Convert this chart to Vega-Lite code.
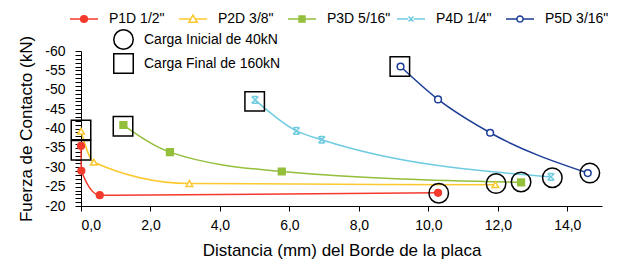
{
  "$schema": "https://vega.github.io/schema/vega-lite/v6.json",
  "padding": {"left": 17, "top": 4, "right": 20, "bottom": 60},
  "width": 521,
  "height": 155,
  "background": "white",
  "config": {
    "view": {"stroke": null},
    "font": "Liberation Sans",
    "axis": {"labelFont": "Liberation Sans", "titleFont": "Liberation Sans", "labelColor": "black", "titleColor": "black", "labelFontSize": 14, "titleFontSize": 17, "titleFontWeight": "normal", "grid": false, "labelOverlap": false},
    "legend": {"labelFont": "Liberation Sans", "labelFontSize": 14, "labelColor": "black", "padding": 0}
  },
  "datasets": {
    "series": [
      {"serie": "P1D 1/2\"", "i": 1, "x": 0.0, "y": -35.5},
      {"serie": "P1D 1/2\"", "i": 2, "x": 0.01, "y": -29.1},
      {"serie": "P1D 1/2\"", "i": 3, "x": 0.54, "y": -22.8},
      {"serie": "P1D 1/2\"", "i": 4, "x": 10.28, "y": -23.4},
      {"serie": "P2D 3/8\"", "i": 1, "x": 0.0, "y": -39.3},
      {"serie": "P2D 3/8\"", "i": 2, "x": 0.37, "y": -31.3},
      {"serie": "P2D 3/8\"", "i": 3, "x": 3.12, "y": -25.8},
      {"serie": "P2D 3/8\"", "i": 4, "x": 11.93, "y": -25.5},
      {"serie": "P3D 5/16\"", "i": 1, "x": 1.22, "y": -40.9},
      {"serie": "P3D 5/16\"", "i": 2, "x": 2.56, "y": -33.9},
      {"serie": "P3D 5/16\"", "i": 3, "x": 5.78, "y": -28.9},
      {"serie": "P3D 5/16\"", "i": 4, "x": 12.67, "y": -26.1},
      {"serie": "P4D 1/4\"", "i": 1, "x": 5.01, "y": -47.4},
      {"serie": "P4D 1/4\"", "i": 2, "x": 6.2, "y": -39.4},
      {"serie": "P4D 1/4\"", "i": 3, "x": 6.93, "y": -37.1},
      {"serie": "P4D 1/4\"", "i": 4, "x": 13.53, "y": -27.5},
      {"serie": "P5D 3/16\"", "i": 1, "x": 9.2, "y": -56.0},
      {"serie": "P5D 3/16\"", "i": 2, "x": 10.28, "y": -47.5},
      {"serie": "P5D 3/16\"", "i": 3, "x": 11.78, "y": -38.9},
      {"serie": "P5D 3/16\"", "i": 4, "x": 14.59, "y": -28.5}
    ],
    "marcas": [
      {"tipo": "Carga Final de 160kN", "x": 0.0, "y": -34.4},
      {"tipo": "Carga Final de 160kN", "x": 0.0, "y": -39.6},
      {"tipo": "Carga Final de 160kN", "x": 1.21, "y": -40.6},
      {"tipo": "Carga Final de 160kN", "x": 5.0, "y": -47.0},
      {"tipo": "Carga Final de 160kN", "x": 9.18, "y": -56.0},
      {"tipo": "Carga Inicial de 40kN", "x": 10.3, "y": -23.3},
      {"tipo": "Carga Inicial de 40kN", "x": 11.95, "y": -25.8},
      {"tipo": "Carga Inicial de 40kN", "x": 12.67, "y": -26.2},
      {"tipo": "Carga Inicial de 40kN", "x": 13.57, "y": -27.3},
      {"tipo": "Carga Inicial de 40kN", "x": 14.65, "y": -28.5}
    ]
  },
  "encoding": {
    "x": {"field": "x", "type": "quantitative", "scale": {"domain": [0, 15], "nice": false, "zero": false},
      "axis": {"title": "Distancia (mm) del Borde de la placa", "values": [0, 2, 4, 6, 8, 10, 12, 14], "labelExpr": "replace(format(datum.value, '.1f'), '.', ',')", "domainColor": "#000000", "tickColor": "#000000", "tickSize": 5, "labelPadding": 7, "titlePadding": 10}},
    "y": {"field": "y", "type": "quantitative", "scale": {"domain": [-60, -20], "nice": false, "zero": false, "reverse": true},
      "axis": {"title": "Fuerza de Contacto (kN)", "values": [-60,-59,-58,-57,-56,-55,-54,-53,-52,-51,-50,-49,-48,-47,-46,-45,-44,-43,-42,-41,-40,-39,-38,-37,-36,-35,-34,-33,-32,-31,-30,-29,-28,-27,-26,-25,-24,-23,-22,-21,-20], "labelExpr": "datum.value % 5 == 0 ? '' + datum.value : ''", "domainColor": "#000000", "tickColor": "#000000", "tickSize": 6, "labelPadding": 10, "titlePadding": 9}}
  },
  "layer": [
    {
      "data": {"name": "series"},
      "mark": {"type": "line", "interpolate": "monotone", "strokeWidth": 1.5},
      "encoding": {
        "order": {"field": "i", "type": "quantitative"},
        "color": {"field": "serie", "type": "nominal",
          "scale": {"domain": ["P1D 1/2\"", "P2D 3/8\"", "P3D 5/16\"", "P4D 1/4\"", "P5D 3/16\""], "range": ["#F33A2D", "#FCC82F", "#93BF3B", "#6FCBE0", "#1B3D96"]},
          "legend": {"title": null, "orient": "none", "direction": "horizontal", "legendX": -12, "legendY": -47, "symbolSize": 784, "symbolStrokeWidth": 1.5, "labelOffset": 10, "columnPadding": 3, "gridAlign": "all",
            "encoding": {"symbols": {
              "shape": {"value": {"expr": "substring(datum.value,0,3) == 'P1D' ? 'M-1,0H-0.22M0.22,0H1M0.24,0A0.24,0.24,0,1,1,-0.24,0A0.24,0.24,0,1,1,0.24,0Z' : substring(datum.value,0,3) == 'P2D' ? 'M-1,0H-0.2M0.2,0H1M0,-0.28L0.3,0.24L-0.3,0.24Z' : substring(datum.value,0,3) == 'P3D' ? 'M-1,0H-0.2M0.2,0H1M-0.21,-0.21H0.21V0.21H-0.21Z' : substring(datum.value,0,3) == 'P4D' ? 'M-1,0H-0.2M0.2,0H1M-0.18,-0.18L0.18,0.18M-0.18,0.18L0.18,-0.18' : 'M-1,0H-0.22M0.22,0H1M0.22,0A0.22,0.22,0,1,1,-0.22,0A0.22,0.22,0,1,1,0.22,0Z'"}},
              "fill": {"value": {"expr": "substring(datum.value,0,3) == 'P1D' ? '#F33A2D' : substring(datum.value,0,3) == 'P3D' ? '#93BF3B' : 'white'"}}
            }}}
        }
      }
    },
    {
      "data": {"name": "series"},
      "mark": {"type": "point", "filled": false, "strokeWidth": 1.5, "size": 45, "opacity": 1},
      "encoding": {
        "shape": {"field": "serie", "type": "nominal", "legend": null,
          "scale": {"domain": ["P1D 1/2\"", "P2D 3/8\"", "P3D 5/16\"", "P4D 1/4\"", "P5D 3/16\""], "range": ["circle", "triangle-up", "square", "M-1,-1L1,1M-1,1L1,-1M-0.7,-1H0.7M-0.7,1H0.7", "circle"]}},
        "stroke": {"field": "serie", "type": "nominal", "legend": null,
          "scale": {"domain": ["P1D 1/2\"", "P2D 3/8\"", "P3D 5/16\"", "P4D 1/4\"", "P5D 3/16\""], "range": ["#F33A2D", "#FCC82F", "#93BF3B", "#6FCBE0", "#1B3D96"]}},
        "fill": {"field": "serie", "type": "nominal", "legend": null,
          "scale": {"domain": ["P1D 1/2\"", "P2D 3/8\"", "P3D 5/16\"", "P4D 1/4\"", "P5D 3/16\""], "range": ["#F33A2D", "white", "#93BF3B", "#6FCBE0", "white"]}}
      }
    },
    {
      "data": {"name": "marcas"},
      "mark": {"type": "point", "filled": false, "stroke": "black", "strokeWidth": 1.5, "size": 380, "opacity": 1},
      "encoding": {
        "shape": {"field": "tipo", "type": "nominal",
          "scale": {"domain": ["Carga Inicial de 40kN", "Carga Final de 160kN"], "range": ["circle", "square"]},
          "legend": {"title": null, "orient": "none", "legendX": 32, "legendY": -22, "symbolSize": 380, "symbolStrokeWidth": 1.5, "symbolStrokeColor": "black", "symbolFillColor": "transparent", "labelOffset": 10, "rowPadding": -4}}
      }
    }
  ],
  "resolve": {"scale": {"shape": "independent"}, "legend": {"shape": "independent"}}
}
